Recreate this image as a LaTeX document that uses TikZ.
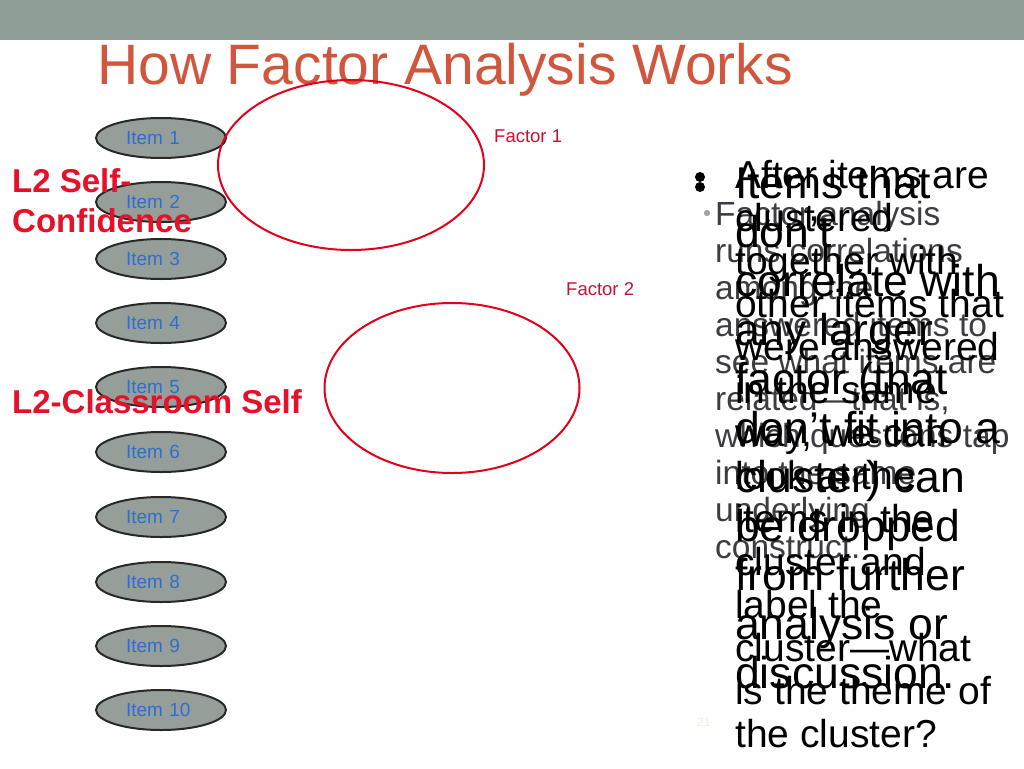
\documentclass[tikz,border=0pt]{standalone}
\usepackage{fontspec}
\setmainfont{Liberation Sans}
\usetikzlibrary{shapes.geometric}
\definecolor{slidegrey}{RGB}{143,158,151}
\definecolor{titlered}{RGB}{208,86,62}
\definecolor{itemgrey}{RGB}{149,158,152}
\definecolor{itemedge}{RGB}{40,40,40}
\definecolor{itemblue}{RGB}{45,110,210}
\definecolor{factorred}{RGB}{226,0,26}
\definecolor{factortext}{RGB}{200,16,50}
\definecolor{labelred}{RGB}{230,16,40}
\definecolor{notegrey}{RGB}{60,60,66}
\definecolor{dotgrey}{RGB}{155,168,159}
\definecolor{pagegrey}{RGB}{238,238,222}

\begin{document}
\begin{tikzpicture}[x=1pt, y=-1pt,
    itembox/.style={ellipse, draw=itemedge, line width=2pt, fill=itemgrey,
        minimum width=130pt, minimum height=40pt, inner sep=0pt,
        text width=70pt, align=left, text=itemblue,
        font=\fontsize{19}{22}\selectfont},
    factorring/.style={ellipse, draw=factorred, line width=2pt, inner sep=0pt},
    plain/.style={anchor=base west, inner sep=0pt}]
    \useasboundingbox (0,0) rectangle (1024,768);
    \fill[slidegrey] (0,0) rectangle (1024,40);
    \node[plain, text=titlered, font=\fontsize{57}{62}\selectfont] (title) at (97,84) {How Factor Analysis Works};

    % items
    \foreach \y/\n in {138/1, 202/2, 259/3, 323/4, 387/5, 452/6, 517/7, 582/8, 646/9, 710/10}
        \node[itembox] (item\n) at (161,\y) {Item \n};

    % factors
    \node[factorring, minimum width=266pt, minimum height=170pt] (ring1) at (351,165) {};
    \node[factorring, minimum width=255pt, minimum height=170pt] (ring2) at (452,388) {};
    \node[plain, text=factortext, font=\fontsize{18.5}{22}\selectfont] (factor1) at (494,142) {Factor 1};
    \node[plain, text=factortext, font=\fontsize{18.5}{22}\selectfont] (factor2) at (566,295) {Factor 2};

    % construct labels
    \node[plain, text=labelred, font=\fontsize{33}{40}\bfseries] (selfconf) at (12,192) {L2 Self-};
    \node[plain, text=labelred, font=\fontsize{33}{40}\bfseries] (confidence) at (12,232) {Confidence};
    \node[plain, text=labelred, font=\fontsize{33}{40}\bfseries] (classroom) at (12,413) {L2-Classroom Self};

    % notes on the right
    \fill[dotgrey] (707,213) circle (3.2);
    \foreach \txt [count=\i] in {Factor analysis, runs correlations, among the,
        answered items to, see what items are, {related—that is,}, which questions tap,
        into the same, underlying, construct.}
        \node[plain, text=notegrey, font=\fontsize{33.5}{37}\selectfont] (runs\i) at (715,{225+37*(\i-1)}) {\txt};
    \fill (700,177) circle (5);
    \foreach \txt [count=\i] in {After items are, clustered, together with, other items that,
        were answered, in the same, {way, we can}, look at the, items in the, cluster and,
        label the, cluster—what, is the theme of, the cluster?}
        \node[plain, font=\fontsize{39}{43}\selectfont] (after\i) at (735,{188+43*(\i-1)}) {\txt};
    \fill (700,187) circle (5);
    \foreach \txt [count=\i] in {Items that, don’t, correlate with, any larger, factor (that,
        don’t fit into a, cluster) can, be dropped, from further, analysis or, discussion.}
        \node[plain, font=\fontsize{44.5}{49}\selectfont] (drop\i) at (735,{198+49*(\i-1)}) {\txt};

    \node[plain, text=pagegrey, font=\fontsize{12}{14}\selectfont] (pagenum) at (697,726) {21};
\end{tikzpicture}
\end{document}
